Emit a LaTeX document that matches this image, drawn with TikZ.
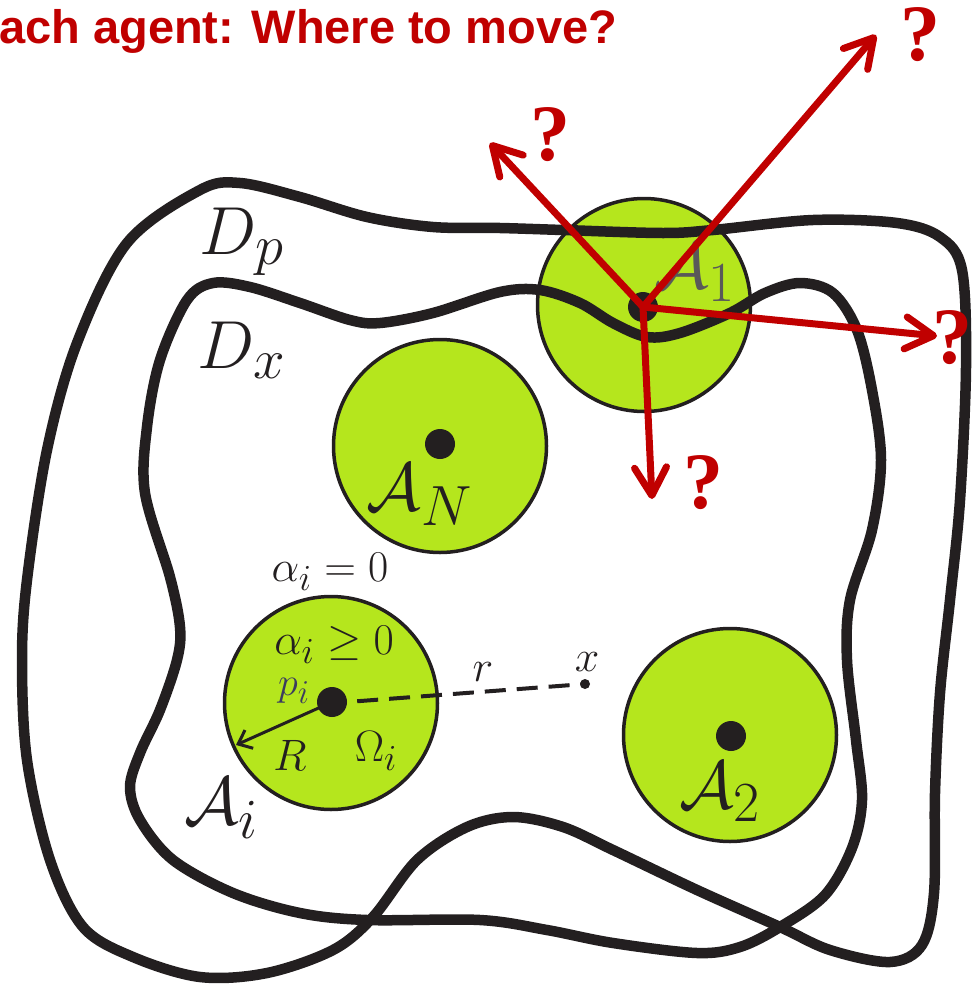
\documentclass[tikz,border=0pt]{standalone}
\usepackage{fontspec}
\newfontfamily\titlefont{Liberation Sans}
\newfontfamily\qfont{Liberation Serif}
\usetikzlibrary{arrows.meta}
\definecolor{agentgreen}{RGB}{181,230,29}
\definecolor{redarrow}{RGB}{192,0,0}
\definecolor{curveblack}{RGB}{35,31,32}
\definecolor{pcolor}{RGB}{60,60,95}
\begin{document}
\begin{tikzpicture}[x=1pt,y=-1pt,
  region/.style={line width=10.5pt, draw=curveblack, line join=round},
  agent/.style={circle, draw=curveblack, line width=3.5pt, fill=agentgreen, minimum size=213pt, inner sep=0pt},
  agentdot/.style={circle, fill=curveblack, minimum size=30pt, inner sep=0pt},
  move/.style={draw=redarrow, line width=7pt, line cap=round, -{Straight Barb[length=28pt,width=32pt,line width=7pt,round]}},
  qmark/.style={text=redarrow, font=\qfont\bfseries\fontsize{80}{80}\selectfont, inner sep=0pt},
  biglabel/.style={text=curveblack, font=\Huge, scale=2.733, inner sep=0pt},
  smalllabel/.style={text=curveblack, font=\Huge, scale=1.768, inner sep=0pt}]
\useasboundingbox (0,0) rectangle (973,985);

% agents
\node[agent] (c1) at (644,305) {};
\node[agent] (cN) at (440,446) {};
\node[agent] (ci) at (331,703) {};
\node[agent] (c2) at (730,735) {};
\node[agentdot] (d1) at (643,307) {};
\node[agentdot] (dN) at (440,444) {};
\node[agentdot] (di) at (332,702) {};
\node[agentdot] (d2) at (731,736) {};

% outer region D_p
\draw[region] plot[smooth cycle, tension=0.55] coordinates {
 (27,580) (47,450) (77,343) (127,243) (200,190) (240,183) (300,197) (367,217)
 (433,227) (500,228) (563,230) (663,233) (713,230) (813,220) (897,223) (940,237)
 (962,270) (966,367) (960,500) (950,600) (940,693) (935,793) (934,893) (922,945)
 (890,962) (830,950) (780,927) (697,890) (613,850) (563,827) (513,817) (467,827)
 (417,860) (373,917) (333,950) (267,973) (200,977) (133,957) (83,927) (50,860)
 (27,760) (22,660)};

% inner region D_x
\draw[region] plot[smooth cycle, tension=0.55] coordinates {
 (145,493) (147,427) (160,360) (187,300) (213,283) (250,287) (300,303) (350,320)
 (380,323) (433,313) (500,292) (540,290) (580,303) (613,323) (647,337) (680,333)
 (730,313) (765,293) (800,283) (833,293) (857,330) (872,390) (881,460) (872,530)
 (850,600) (847,660) (856,740) (862,800) (852,848) (825,895) (780,927) (740,947)
 (697,953) (613,943) (547,930) (480,920) (367,920) (300,913) (233,893) (173,860)
 (140,820) (130,787) (140,753) (160,710) (177,660) (180,627) (170,577)};

% labels
\node[biglabel] (lDp) at (242,242) {$D_p$};
\node[biglabel] (lDx) at (242,350) {$D_x$};
\node[biglabel] (lAN) at (420,495) {$\mathcal{A}_N$};
\node[biglabel] (lAi) at (222,808) {$\mathcal{A}_i$};
\node[biglabel] (lA2) at (720,792) {$\mathcal{A}_2$};
\node[biglabel, text=black!65] (lA1) at (695,272) {$\mathcal{A}_1$};
\node[smalllabel] (la0) at (330,572) {$\alpha_i = 0$};
\node[smalllabel] (lag) at (334,645) {$\alpha_i \geq 0$};
\node[smalllabel, text=pcolor, scale=0.91] (lp) at (294,691) {$p_i$};
\node[smalllabel] (lR) at (290,755) {$R$};
\node[smalllabel] (lO) at (376,751) {$\Omega_i$};
\node[smalllabel] (lr) at (483,672) {$r$};
\node[smalllabel] (lx) at (587,662) {$x$};

% point x and distance
\node[circle, fill=curveblack, minimum size=10pt, inner sep=0pt] (xp) at (585,684) {};
\draw[curveblack, line width=4pt, dash pattern=on 21pt off 11pt, shorten <=10pt] (di.east) -- (xp.center);
\coordinate (rtip) at (236,745);
\draw[curveblack, line width=3pt, -{Straight Barb[length=12pt,width=20pt,line width=3pt]}] (di.center) -- (rtip);

% title
\node[anchor=base west, inner sep=0pt, text=redarrow, font=\titlefont\bfseries\fontsize{47}{49}\selectfont] (title) at (-1,43) {ach agent: Where to move?};

% moves
\coordinate (t1) at (490,143);
\coordinate (t2) at (876,35);
\coordinate (t3) at (937,336);
\coordinate (t4) at (652,499);
\draw[move] (d1.center) -- (t1);
\draw[move] (d1.center) -- (t2);
\draw[move] (d1.center) -- (t3);
\draw[move] (d1.center) -- (t4);
\node[qmark] (q1) at (550,135) {?};
\node[qmark] (q2) at (920,35) {?};
\node[qmark] (q3) at (952,338) {?};
\node[qmark] (q4) at (703,483) {?};
\end{tikzpicture}
\end{document}
